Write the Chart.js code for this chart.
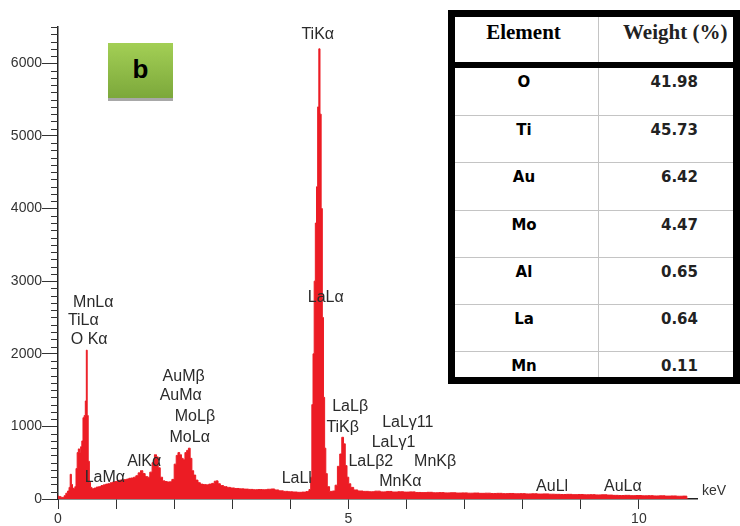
<!DOCTYPE html>
<html>
<head>
<meta charset="utf-8">
<script src="https://cdn.jsdelivr.net/npm/chart.js@4.4.1/dist/chart.umd.min.js"></script>
<style>
  html, body { margin: 0; padding: 0; background: #fff; }
  #wrap { position: relative; width: 740px; height: 526px; overflow: hidden; }
  #c { position: absolute; left: 0; top: 0; }
  #tag {
    position: absolute; left: 108px; top: 43px; width: 65px; height: 55px;
    background: linear-gradient(#a3cf55, #7ca83b);
    border-bottom: 3px solid #a8a8a8;
    font: bold 26px "Liberation Sans", Arial, sans-serif; color: #000;
    text-align: center; line-height: 52px;
  }
  #tbl {
    position: absolute; left: 448px; top: 10px; width: 292px; height: 374px;
    box-sizing: border-box; border: 7px solid #000; background: #fff;
  }
  #tbl .div { position: absolute; left: 143px; top: 0; width: 1px; height: 100%; background: #c4c4c4; }
  #tbl .head { position: absolute; left: 0; top: 0; width: 100%; height: 45px; border-bottom: 6px solid #000;
    font: bold 21px "Liberation Serif", "Times New Roman", serif; color: #111; line-height: 30px; }
  #tbl .row { position: absolute; left: 0; width: 100%; box-sizing: border-box;
    font: bold 15px "DejaVu Sans", sans-serif; line-height: 28px; }
  #tbl .row.sep { border-top: 1px solid #c4c4c4; }
  #tbl .l { position: absolute; left: 0; top: 0; width: 143px; box-sizing: border-box; text-align: center; padding-right: 5px; color: #000; }
  #tbl .r { position: absolute; left: 144px; top: 0; width: 134px; box-sizing: border-box; text-align: right; padding-right: 35px; color: #222; }
  #tbl .head .l { padding-right: 6px; }
  #tbl .head .r { text-align: left; padding-left: 24px; padding-right: 0; }
</style>
</head>
<body>
<div id="wrap">
  <canvas id="c" width="740" height="526"></canvas>
  <div id="tag">b</div>
  <div id="tbl"></div>
</div>
<script>
// EDS spectrum: channel energy (keV) and counts
const energy = [
  0.00, 0.03, 0.06, 0.09, 0.12, 0.15, 0.18, 0.20, 0.22, 0.24, 0.26, 0.28, 0.30, 0.32, 0.34, 0.36, 0.38, 0.40,
  0.42, 0.44, 0.46, 0.48, 0.495, 0.51, 0.53, 0.55, 0.57, 0.60, 0.64, 0.68, 0.72, 0.76, 0.80, 0.84, 0.88, 0.92,
  0.96, 1.00, 1.04, 1.08, 1.12, 1.16, 1.20, 1.24, 1.28, 1.32, 1.36, 1.40, 1.44, 1.48, 1.52, 1.56, 1.60, 1.64,
  1.68, 1.71, 1.74, 1.78, 1.82, 1.86, 1.90, 1.94, 1.98, 2.02, 2.05, 2.08, 2.11, 2.14, 2.17, 2.20, 2.23, 2.26,
  2.29, 2.32, 2.35, 2.39, 2.43, 2.47, 2.52, 2.57, 2.62, 2.67, 2.71, 2.74, 2.77, 2.82, 2.88, 2.94, 3.00, 3.08,
  3.16, 3.24, 3.32, 3.40, 3.48, 3.56, 3.64, 3.70, 3.76, 3.84, 3.92, 4.00, 4.08, 4.16, 4.24, 4.30, 4.34, 4.36,
  4.38, 4.40, 4.42, 4.44, 4.46, 4.48, 4.50, 4.52, 4.54, 4.56, 4.58, 4.60, 4.62, 4.65, 4.70, 4.75, 4.79, 4.83,
  4.87, 4.90, 4.93, 4.96, 4.99, 5.02, 5.06, 5.12, 5.20, 5.30, 5.40, 5.50, 5.60, 5.70, 5.80, 5.90, 6.00, 6.10,
  6.20, 6.30, 6.40, 6.50, 6.60, 6.70, 6.80, 6.90, 7.00, 7.10, 7.20, 7.30, 7.40, 7.50, 7.60, 7.70, 7.80, 7.90,
  8.00, 8.10, 8.20, 8.30, 8.40, 8.50, 8.60, 8.70, 8.80, 8.90, 9.00, 9.10, 9.20, 9.30, 9.40, 9.50, 9.60, 9.70,
  9.80, 9.90, 10.00, 10.10, 10.20, 10.30, 10.40, 10.50, 10.60, 10.70, 10.80, 10.85
];
const counts = [
  40, 35, 25, 20, 45, 80, 110, 160, 340, 200, 150, 140, 170, 420, 640, 690, 640, 720,
  800, 1120, 1150, 1350, 2050, 1150, 520, 230, 160, 140, 150, 165, 170, 185, 195, 205, 210, 225,
  235, 240, 255, 260, 262, 268, 275, 285, 290, 300, 320, 360, 390, 350, 310, 300, 370, 500,
  610, 580, 430, 300, 250, 240, 235, 238, 270, 480, 600, 640, 610, 560, 540, 640, 670, 700,
  560, 390, 330, 260, 225, 205, 200, 195, 205, 215, 245, 250, 210, 185, 170, 160, 152, 145,
  140, 136, 132, 128, 130, 128, 134, 138, 125, 112, 105, 100, 96, 92, 95, 102, 130, 300,
  1300, 2000, 3000, 3800, 4300, 5400, 6200, 5300, 4000, 2500, 1400, 700, 350, 170, 105, 110, 190, 450,
  620, 850, 760, 460, 300, 210, 160, 125, 110, 105, 100, 108, 98, 104, 96, 100, 95, 98,
  90, 88, 92, 86, 88, 84, 86, 82, 84, 80, 82, 78, 80, 76, 78, 74, 76, 72,
  74, 70, 72, 68, 70, 66, 64, 62, 64, 60, 62, 58, 60, 56, 58, 54, 50, 48,
  50, 46, 48, 44, 46, 42, 44, 40, 42, 38, 40, 0
];

// x-ray line identifications, anchored in (keV, counts)
const lineNames = ['MnLα', 'TiLα', 'O Kα', 'LaMα', 'AlKα', 'AuMβ', 'AuMα', 'MoLβ', 'MoLα', 'LaLl', 'TiKα',
  'LaLα', 'LaLβ', 'TiKβ', 'LaLβ2', 'LaLγ1', 'LaLγ11', 'MnKα', 'MnKβ', 'AuLl', 'AuLα'];
const lineKeV = [0.26, 0.17, 0.22, 0.46, 1.19, 1.80, 1.75, 2.01, 1.92, 3.85, 4.19,
  4.30, 4.72, 4.62, 5.00, 5.40, 5.58, 5.53, 6.13, 8.23, 9.40];
const lineCounts = [2710, 2450, 2190, 290, 510, 1690, 1420, 1130, 850, 280, 6390,
  2770, 1270, 990, 510, 770, 1050, 235, 510, 165, 165];

// quantification table
const elements = ['O', 'Ti', 'Au', 'Mo', 'Al', 'La', 'Mn'];
const weights = ['41.98', '45.73', '6.42', '4.47', '0.65', '0.64', '0.11'];

// axis ranges and tick labels
const xMax = 11, yMax = 6500;
const xLabels = [0, 5, 10];
const yLabelStep = 1000, yMinorStep = 100;

const FONT = '"Liberation Sans", Arial, sans-serif';

const extras = {
  id: 'extras',
  afterDraw(chart) {
    const { ctx, chartArea, scales } = chart;
    const xs = scales.x, ys = scales.y;
    ctx.save();
    // minor ticks on the count axis
    ctx.strokeStyle = '#333';
    ctx.lineWidth = 1;
    for (let v = 0; v <= yMax; v += yMinorStep) {
      if (v % yLabelStep === 0) continue;
      const y = Math.round(ys.getPixelForValue(v)) + 0.5;
      ctx.beginPath();
      ctx.moveTo(chartArea.left - 7, y);
      ctx.lineTo(chartArea.left, y);
      ctx.stroke();
    }
    // peak identifications
    ctx.fillStyle = '#2b2b2b';
    ctx.font = '16px ' + FONT;
    ctx.textAlign = 'left';
    ctx.textBaseline = 'middle';
    lineNames.forEach((t, i) => {
      ctx.fillText(t, xs.getPixelForValue(lineKeV[i]), ys.getPixelForValue(lineCounts[i]));
    });
    // axis unit
    ctx.font = '14px ' + FONT;
    ctx.fillStyle = '#333';
    ctx.fillText('keV', chartArea.right + 5, chartArea.bottom - 8);
    ctx.restore();
  }
};

new Chart(document.getElementById('c'), {
  type: 'line',
  data: {
    datasets: [{
      data: energy.map((e, i) => ({ x: e, y: counts[i] })),
      borderColor: '#ec1c24',
      backgroundColor: '#ec1c24',
      borderWidth: 1,
      fill: 'origin',
      stepped: 'middle',
      pointRadius: 0,
      tension: 0
    }]
  },
  options: {
    responsive: false,
    animation: false,
    layout: { padding: { top: 27, right: 43, left: 0, bottom: 0 } },
    plugins: { legend: { display: false }, tooltip: { enabled: false } },
    scales: {
      x: {
        type: 'linear', min: 0, max: xMax, position: 'bottom',
        border: { color: '#222', width: 1.5 },
        grid: { drawOnChartArea: false, tickLength: 10, tickWidth: 1,
          tickColor: c => (c.tick && c.tick.value >= xMax ? 'rgba(0,0,0,0)' : '#333') },
        ticks: { stepSize: 1, autoSkip: false, maxRotation: 0, padding: 2, color: '#333',
          font: { family: FONT, size: 14 },
          callback: v => (xLabels.includes(v) ? String(v) : '') },
        afterFit: s => { s.height = 27; }
      },
      y: {
        type: 'linear', min: 0, max: yMax,
        border: { color: '#222', width: 1.5 },
        grid: { drawOnChartArea: false, tickLength: 16, tickWidth: 1,
          tickColor: c => (c.tick && c.tick.value % yLabelStep === 0 ? '#333' : 'rgba(0,0,0,0)') },
        ticks: { stepSize: yMinorStep, autoSkip: false, padding: 0, color: '#333',
          font: { family: FONT, size: 14 },
          callback: v => (v % yLabelStep === 0 ? String(v) : '') },
        afterFit: s => { s.width = 58; }
      }
    }
  },
  plugins: [extras]
});

// quantification table
const tbl = document.getElementById('tbl');
tbl.innerHTML = '<div class="div"></div>' +
  '<div class="head"><div class="l">Element</div><div class="r">Weight (%)</div></div>';
elements.forEach((el, i) => {
  const row = document.createElement('div');
  row.className = 'row' + (i > 0 ? ' sep' : '');
  const top = 51 + Math.round(i * 47.2);
  row.style.top = top + 'px';
  row.style.height = (i === elements.length - 1 ? 360 - top : 47) + 'px';
  row.innerHTML = '<div class="l">' + el + '</div><div class="r">' + weights[i] + '</div>';
  tbl.appendChild(row);
});
</script>
</body>
</html>
